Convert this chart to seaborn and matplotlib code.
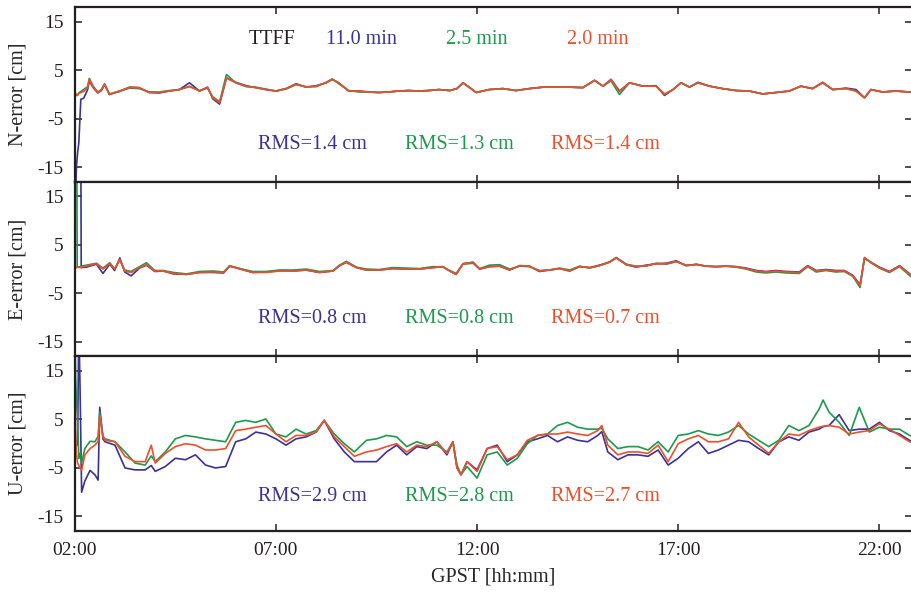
import numpy as np
import pandas as pd
import matplotlib
matplotlib.use("Agg")
import matplotlib.pyplot as plt
import seaborn as sns

# receivers / colours
receivers = ["TTFF 11.0 min", "TTFF 2.5 min", "TTFF 2.0 min"]
colors = {"TTFF 11.0 min": "#3b3196", "TTFF 2.5 min": "#1c9a4c", "TTFF 2.0 min": "#f04e2b"}
ttff_labels = ["11.0 min", "2.5 min", "2.0 min"]

# ---- N component (time in hours, values in cm) ----
n_time = [2.0, 2.01, 2.04, 2.07, 2.1, 2.15, 2.22, 2.32, 2.36, 2.45, 2.57, 2.66, 2.74, 2.86,
          3.1, 3.36, 3.6, 3.85, 4.1, 4.35, 4.6, 4.85, 5.1, 5.3, 5.43, 5.6, 5.77, 6.0, 6.26,
          6.5, 6.75, 7.0, 7.25, 7.5, 7.75, 8.0, 8.25, 8.4, 8.56, 8.81, 9.06, 9.3, 9.55, 9.8,
          10.05, 10.3, 10.55, 10.8, 11.05, 11.32, 11.5, 11.65, 11.8, 11.98, 12.3, 12.64,
          12.97, 13.3, 13.64, 13.97, 14.3, 14.63, 14.92, 15.13, 15.33, 15.54, 15.79, 16.12,
          16.45, 16.66, 16.87, 17.07, 17.28, 17.49, 17.78, 18.1, 18.44, 18.77, 19.1, 19.43,
          19.76, 20.05, 20.34, 20.59, 20.84, 21.17, 21.42, 21.63, 21.79, 22.08, 22.41, 22.74, 22.85]
n_blue = [-25, -25, -15, -12, -10, -1.0, -0.8, 1.0, 2.8, 1.5, 0.3, 0.8, 2.0, 0.0,
          0.6, 1.5, 1.4, 0.4, 0.3, 0.7, 1.0, 2.4, 0.7, 1.5, -0.9, -2.0, 3.4, 2.5, 1.8,
          1.4, 1.0, 0.7, 1.2, 2.2, 1.5, 1.8, 2.4, 3.1, 2.4, 0.7, 0.7, 0.5, 0.4, 0.5,
          0.7, 0.8, 0.7, 0.8, 1.0, 0.8, 1.2, 2.4, 1.5, 0.4, 1.0, 1.2,
          0.8, 1.2, 1.5, 1.5, 1.5, 1.4, 2.9, 1.7, 3.1, 0.7, 2.4, 1.7,
          1.8, -0.2, 1.0, 2.4, 1.5, 2.5, 1.7, 1.2, 0.8, 0.7, 0.1, 0.4,
          0.7, 1.7, 1.2, 2.5, 1.0, 1.3, 1.0, -0.7, 1.0, 0.5, 0.7, 0.5, 0.4]
n_green = [25, 0.2, 0.0, -0.1, 0.3, 0.6, 1.0, 1.6, 3.3, 1.8, 0.5, 1.0, 2.2, 0.1,
           0.6, 1.3, 1.2, 0.5, 0.5, 0.8, 1.0, 1.6, 0.8, 1.3, -0.5, -1.5, 4.1, 2.4, 1.6,
           1.5, 1.1, 0.7, 1.1, 2.0, 1.6, 1.6, 2.5, 3.2, 2.2, 0.8, 0.5, 0.5, 0.4, 0.5,
           0.7, 0.8, 0.7, 0.8, 1.0, 0.8, 1.2, 2.4, 1.5, 0.4, 1.0, 1.2,
           0.8, 1.2, 1.5, 1.5, 1.5, 1.4, 2.9, 1.7, 2.8, 0.0, 2.4, 1.7,
           1.7, 0.1, 1.0, 2.4, 1.5, 2.4, 1.7, 1.2, 0.8, 0.7, 0.1, 0.4,
           0.7, 1.7, 1.2, 2.4, 1.0, 1.2, 0.7, -0.7, 1.0, 0.5, 0.7, 0.5, 0.4]
n_red = [-25, -0.3, -0.2, -0.2, 0.2, 0.4, 0.6, 1.4, 3.1, 1.6, 0.4, 0.9, 2.1, 0.0,
         0.7, 1.4, 1.4, 0.4, 0.4, 0.7, 1.0, 1.7, 0.7, 1.4, -0.7, -1.7, 3.4, 2.4, 1.7,
         1.4, 1.0, 0.7, 1.2, 2.1, 1.5, 1.7, 2.4, 3.1, 2.4, 0.7, 0.7, 0.5, 0.4, 0.5,
         0.7, 0.8, 0.7, 0.8, 1.0, 0.8, 1.2, 2.4, 1.5, 0.4, 1.0, 1.2,
         0.8, 1.2, 1.5, 1.5, 1.5, 1.4, 2.9, 1.7, 3.1, 0.6, 2.4, 1.7,
         1.7, 0.0, 1.0, 2.4, 1.5, 2.4, 1.7, 1.2, 0.8, 0.7, 0.1, 0.4,
         0.7, 1.7, 1.2, 2.4, 1.0, 1.2, 0.7, -0.7, 1.0, 0.5, 0.7, 0.5, 0.4]

# ---- E component ----
e_time = [2.0, 2.003, 2.01, 2.05, 2.06, 2.15, 2.16, 2.29, 2.54, 2.7, 2.87, 2.99, 3.12, 3.24,
          3.4, 3.61, 3.78, 3.99, 4.2, 4.45, 4.78, 5.1, 5.44, 5.7, 5.85, 6.1, 6.42, 6.76,
          7.1, 7.43, 7.75, 8.08, 8.42, 8.58, 8.75, 9.0, 9.25, 9.57, 9.9, 10.24, 10.57,
          10.9, 11.15, 11.32, 11.48, 11.65, 11.9, 12.06, 12.31, 12.56, 12.81, 13.06, 13.3,
          13.55, 13.8, 14.05, 14.3, 14.55, 14.8, 15.04, 15.29, 15.46, 15.71, 15.95, 16.2,
          16.45, 16.7, 16.95, 17.2, 17.45, 17.69, 17.94, 18.19, 18.44, 18.69, 18.94, 19.18,
          19.43, 19.68, 20.01, 20.22, 20.43, 20.67, 20.92, 21.13, 21.34, 21.52, 21.63, 21.79,
          22.0, 22.25, 22.5, 22.79, 22.85]
e_blue = [25, 25, 25, 25, 25, 25, 0.3, 0.4, 1.0, -0.9, 1.0, -0.3, 2.3, -0.6,
          -1.4, 0.2, 0.8, -0.5, -0.4, -1.0, -1.1, -0.7, -0.7, -0.8, 0.6, 0.1, -0.7, -0.6,
          -0.3, -0.4, -0.2, -0.7, -0.4, 0.7, 1.4, 0.3, -0.2, -0.2, 0.1, 0.0, 0.0,
          0.3, 0.5, -0.4, -1.1, 1.1, 1.4, 0.0, 0.5, 0.6, -0.2, 0.7, 0.6,
          -0.5, -0.2, 0.1, -0.4, 0.5, 0.3, 0.8, 1.4, 2.3, 0.9, 0.4, 0.8,
          1.1, 1.2, 1.7, 0.7, 1.0, 0.6, 0.5, 0.6, 0.5, 0.2, -0.3, -0.5,
          -0.3, -0.5, -0.6, 0.7, -0.3, -0.1, -0.3, -0.3, -1.3, -3.2, 2.2, 1.4,
          0.4, -0.5, 0.7, -1.2, -1.0]
e_green = [25, 25, 25, 25, 0.4, 0.5, 0.6, 0.8, 1.2, 0.2, 1.3, 0.1, 1.8, -0.2,
           -0.5, 0.5, 1.3, -0.3, -0.3, -0.7, -1.0, -0.5, -0.4, -0.6, 0.7, 0.1, -0.5, -0.5,
           -0.2, -0.2, 0.0, -0.5, -0.3, 0.8, 1.6, 0.4, 0.0, -0.1, 0.3, 0.2, 0.1,
           0.5, 0.4, -0.3, -0.9, 1.0, 1.2, 0.1, 0.8, 0.9, 0.0, 0.6, 0.5,
           -0.3, -0.2, 0.2, -0.2, 0.6, 0.2, 0.7, 1.5, 2.4, 1.0, 0.6, 0.6,
           1.2, 1.0, 1.5, 0.8, 0.9, 0.6, 0.5, 0.6, 0.4, 0.0, -0.6, -0.8,
           -0.6, -0.8, -0.9, 0.5, -0.6, -0.3, -0.6, -0.5, -1.5, -3.8, 2.4, 1.3,
           0.2, -0.7, 0.5, -1.6, -1.4]
e_red = [20, -11, 0.2, 0.3, 0.4, 0.3, 0.4, 0.6, 1.1, 0.0, 1.1, 0.0, 2.0, -0.4,
         -0.7, 0.3, 0.9, -0.4, -0.4, -0.9, -1.1, -0.7, -0.6, -0.7, 0.6, 0.0, -0.7, -0.7,
         -0.4, -0.4, -0.2, -0.7, -0.4, 0.7, 1.4, 0.3, -0.2, -0.2, 0.1, 0.0, 0.0,
         0.3, 0.5, -0.4, -1.1, 1.1, 1.4, 0.0, 0.5, 0.6, -0.2, 0.7, 0.6,
         -0.4, -0.2, 0.1, -0.4, 0.5, 0.3, 0.7, 1.4, 2.3, 0.95, 0.5, 0.7,
         1.1, 1.1, 1.6, 0.7, 0.95, 0.6, 0.5, 0.6, 0.5, 0.1, -0.4, -0.6,
         -0.4, -0.6, -0.7, 0.6, -0.4, -0.2, -0.4, -0.4, -1.4, -3.4, 2.3, 1.4,
         0.3, -0.6, 0.6, -1.3, -1.1]

# ---- U component ----
u_time = [2.0, 2.02, 2.04, 2.07, 2.1, 2.13, 2.17, 2.25, 2.38, 2.5, 2.58, 2.62, 2.7, 2.75,
          3.0, 3.25, 3.5, 3.75, 3.9, 4.0, 4.25, 4.5, 4.75, 5.0, 5.25, 5.5, 5.75, 6.0,
          6.25, 6.5, 6.75, 7.0, 7.25, 7.5, 7.75, 8.0, 8.2, 8.45, 8.7, 8.95, 9.25, 9.5,
          9.75, 10.0, 10.25, 10.5, 10.75, 11.0, 11.25, 11.4, 11.5, 11.6, 11.75, 12.0,
          12.25, 12.5, 12.75, 13.0, 13.25, 13.5, 13.75, 14.0, 14.25, 14.5, 14.75, 15.0,
          15.1, 15.25, 15.5, 15.75, 16.0, 16.25, 16.5, 16.75, 17.0, 17.25, 17.5, 17.75,
          18.0, 18.25, 18.5, 18.75, 19.0, 19.25, 19.5, 19.75, 20.0, 20.25, 20.5, 20.6,
          20.75, 21.0, 21.25, 21.5, 21.75, 22.0, 22.25, 22.5, 22.75, 22.85]
u_blue = [-1.0, -1.0, -0.5, 0.0, 25, 12, -10, -7.7, -5.5, -6.4, -7.5, 7.5, 1.0, 0.4,
          -0.3, -5.0, -5.4, -5.4, -4.5, -5.7, -4.7, -3.0, -3.3, -2.3, -4.4, -5.0, -4.7, 0.4,
          1.0, 2.4, 2.0, 1.0, -0.3, 1.0, 1.4, 2.4, 4.8, 1.0, -1.7, -3.7, -3.7, -3.7,
          -1.7, -0.3, -2.3, -0.6, -1.0, 0.4, -2.3, 0.4, -5.0, -6.4, -3.7, -5.4,
          -1.0, -0.3, -3.7, -2.3, 0.4, 1.0, 1.7, 0.4, 1.4, 0.7, 0.4, 1.7,
          2.5, -1.7, -3.3, -2.3, -2.3, -2.6, -1.3, -4.4, -3.0, -1.0, 0.4, -2.0,
          -1.3, -0.3, 0.7, 0.4, -1.0, -2.3, 0.4, 1.4, 0.7, 2.4, 3.0, 3.5,
          3.75, 6.0, 2.7, 3.0, 3.0, 4.4, 2.7, 2.0, 0.7, 0.3]
u_green = [25, 14, 9, 5, -3, -2, -4, -1.0, 0.5, 0.4, 1.5, 6.5, 1.5, 1.0,
           0.4, -1.7, -4.0, -4.4, -2.5, -3.7, -1.7, 1.0, 1.7, 1.4, 1.0, 0.7, 0.4, 4.4,
           4.8, 4.4, 5.1, 2.0, 1.4, 3.0, 2.0, 2.7, 4.8, 2.0, 0.0, -1.7, 0.7, 1.0,
           1.7, 1.4, -0.6, 0.4, -0.3, -0.3, -1.7, 0.4, -4.4, -6.4, -4.7, -7.1,
           -2.3, -1.7, -4.4, -3.0, 0.0, 1.7, 2.0, 3.75, 4.4, 3.4, 3.0, 3.0,
           3.2, 1.0, -1.0, -0.6, -0.6, -1.3, 0.4, -1.7, 1.7, 2.0, 2.7, 2.0,
           1.7, 2.4, 3.75, 2.0, 0.7, -0.6, 0.7, 3.75, 2.7, 3.75, 7.1, 9.0,
           6.5, 4.4, 1.7, 7.5, 2.4, 3.4, 3.0, 3.0, 1.7, 1.5]
u_red = [17, 3, -2, -4, -4.5, -5, -5.5, -2.3, -1.0, -0.3, 0.5, 5.8, 1.5, 0.7,
         0.4, -2.6, -3.7, -3.7, -0.3, -4.0, -2.0, -0.6, 0.0, -0.3, -1.3, -1.3, -1.0, 2.7,
         3.0, 3.4, 3.75, 2.0, 0.4, 1.7, 1.7, 2.4, 4.8, 1.4, -0.6, -2.6, -1.7, -1.3,
         -0.6, 0.0, -1.7, -0.3, -0.6, 0.4, -2.0, 0.4, -5.0, -6.4, -3.7, -5.7,
         -1.0, -0.6, -3.3, -2.3, 0.7, 1.7, 2.0, 2.0, 2.4, 2.0, 1.7, 2.7,
         3.75, -0.3, -2.3, -1.7, -1.7, -2.0, -0.3, -3.7, 0.0, 1.0, 1.7, 0.4,
         0.4, 1.0, 4.4, 1.4, -0.3, -2.0, 0.4, 2.0, 1.7, 2.7, 3.4, 3.6,
         3.75, 3.4, 2.0, 2.4, 2.7, 4.1, 3.0, 1.7, 0.4, 0.2]

rms_n = ["RMS=1.4 cm", "RMS=1.3 cm", "RMS=1.4 cm"]
rms_e = ["RMS=0.8 cm", "RMS=0.8 cm", "RMS=0.7 cm"]
rms_u = ["RMS=2.9 cm", "RMS=2.8 cm", "RMS=2.7 cm"]

xticks = [2, 7, 12, 17, 22]
xticklabels = ["02:00", "07:00", "12:00", "17:00", "22:00"]
yticks = [-15, -5, 5, 15]


def long_frame(t, b, g, r):
    parts = []
    for name, vals in zip(receivers, [b, g, r]):
        parts.append(pd.DataFrame({"time": t, "value": vals, "rx": name}))
    return pd.concat(parts, ignore_index=True)


sns.set_theme(style="ticks")
plt.rcParams["font.family"] = ["Liberation Serif", "DejaVu Serif"]
plt.rcParams["axes.unicode_minus"] = False
plt.rcParams["text.color"] = "#231f20"

fig, axes = plt.subplots(3, 1, sharex=True, figsize=(9.12, 5.92), dpi=100)
fig.subplots_adjust(left=0.082, right=0.9995, top=0.988, bottom=0.103, hspace=0)

panels = [
    (long_frame(n_time, n_blue, n_green, n_red), "N-error [cm]", rms_n, -10.3),
    (long_frame(e_time, e_blue, e_green, e_red), "E-error [cm]", rms_e, -10.1),
    (long_frame(u_time, u_blue, u_green, u_red), "U-error [cm]", rms_u, -10.9),
]
rms_x = [7.9, 11.55, 15.2]

for ax, (df, ylab, rms, rms_y) in zip(axes, panels):
    sns.lineplot(data=df, x="time", y="value", hue="rx", palette=colors,
                 hue_order=receivers, linewidth=1.2, legend=False, ax=ax,
                 estimator=None, sort=False)
    ax.set_xlim(2.0, 22.8)
    ax.set_ylim(-18, 18)
    ax.set_yticks(yticks)
    ax.set_yticklabels([str(v) for v in yticks])
    ax.set_ylabel(ylab, fontsize=14.5)
    ax.yaxis.set_label_coords(-0.056, 0.5)
    ax.tick_params(direction="in", length=5, width=1.1, top=True, right=True,
                   labelsize=14, pad=8, colors="#231f20")
    for side in ["left", "top", "bottom"]:
        ax.spines[side].set_linewidth(1.6)
        ax.spines[side].set_color("#231f20")
    ax.spines["right"].set_visible(False)
    for i, txt in enumerate(rms):
        ax.text(rms_x[i], rms_y, txt, color=colors[receivers[i]], fontsize=14.5,
                ha="center", va="center")

axes[0].text(6.9, 11.3, "TTFF", color="#231f20", fontsize=14.5, ha="center", va="center")
for xpos, lab, rx in zip([9.13, 12.0, 15.0], ttff_labels, receivers):
    axes[0].text(xpos, 11.3, lab, color=colors[rx], fontsize=14.5, ha="center", va="center")

axes[2].set_xticks(xticks)
axes[2].set_xticklabels(xticklabels)
axes[2].set_xlabel("GPST [hh:mm]", fontsize=14.5, labelpad=6)
for ax in axes[:2]:
    ax.set_xlabel("")

fig.savefig("out.png", dpi=100)
